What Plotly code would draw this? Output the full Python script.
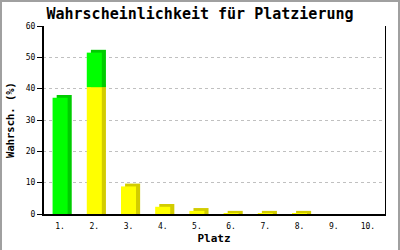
import plotly.graph_objects as go

places = ["1.", "2.", "3.", "4.", "5.", "6.", "7.", "8.", "9.", "10."]
yellow = [0, 40.5, 8.8, 2.3, 1.0, 0.1, 0.1, 0.1, 0, 0]
green = [37.1, 11.0, 0, 0, 0, 0, 0, 0, 0, 0]

W, H = 400, 250
ML, MR, MT, MB = 43, 15, 26, 36
FONT = "DejaVu Sans Mono"

xpos = list(range(1, len(places) + 1))
bw = 0.44          # bar width (category units)
dx = 0.12          # depth offset in x
dy = 0.9           # depth offset in y (value units)

def back(vals):
    return [v + dy if v > 0 else 0 for v in vals]

fig = go.Figure()
# yellow segment
fig.add_trace(go.Bar(x=xpos, y=back(yellow), base=[0]*len(xpos), width=bw,
                     offset=-bw/2 + dx, marker=dict(color="#D2CC00", line=dict(width=0))))
fig.add_trace(go.Bar(x=xpos, y=yellow, base=[0]*len(xpos), width=bw,
                     offset=-bw/2, marker=dict(color="#FFFF00", line=dict(width=0))))
# green segment stacked on yellow
fig.add_trace(go.Bar(x=xpos, y=back(green), base=yellow, width=bw,
                     offset=-bw/2 + dx, marker=dict(color="#00CC00", line=dict(width=0))))
fig.add_trace(go.Bar(x=xpos, y=green, base=yellow, width=bw,
                     offset=-bw/2, marker=dict(color="#00FF00", line=dict(width=0))))

pw = W - ML - MR
ph = H - MT - MB
# outer grey frame
fig.add_shape(type="rect", xref="paper", yref="paper",
              x0=(1 - ML) / pw, x1=(W - 1 - ML) / pw,
              y0=(MB - H + 1) / ph, y1=(H - 1 - MB) / ph,
              line=dict(color="#A0A0A0", width=2), layer="below")
# thicker left axis line
fig.add_shape(type="line", xref="paper", yref="paper", x0=0, x1=0, y0=0, y1=1,
              line=dict(color="black", width=2))

fig.update_layout(
    width=W, height=H,
    margin=dict(l=ML, r=MR, t=MT, b=MB, autoexpand=False),
    barmode="overlay",
    showlegend=False,
    plot_bgcolor="white", paper_bgcolor="white",
    font=dict(family=FONT, color="black"),
    title=dict(text="<b>Wahrscheinlichkeit für Platzierung</b>",
               x=0.5, xref="container", xanchor="center",
               y=1 - 14 / H, yref="container", yanchor="middle",
               font=dict(family=FONT, size=15, color="black")),
    xaxis=dict(range=[0.5, 10.5], tickmode="array", tickvals=xpos, ticktext=places,
               showgrid=False, zeroline=False, showline=True, linecolor="black",
               linewidth=1.5, ticks="", ticklabelstandoff=4, tickfont=dict(size=8),
               automargin=False,
               title=dict(text="<b>Platz</b>", font=dict(size=11), standoff=4)),
    yaxis=dict(range=[0, 60], dtick=10, showgrid=True, gridcolor="#C0C0C0",
               griddash="3px,3px", gridwidth=1, zeroline=False, showline=True,
               linecolor="black", linewidth=1, mirror=True,
               ticks="outside", ticklen=5, tickcolor="black",
               tickfont=dict(size=8), automargin=False,
               title=dict(text="<b>Wahrsch. (%)</b>", font=dict(size=10.5), standoff=9)),
)

fig.write_html("out.html")
